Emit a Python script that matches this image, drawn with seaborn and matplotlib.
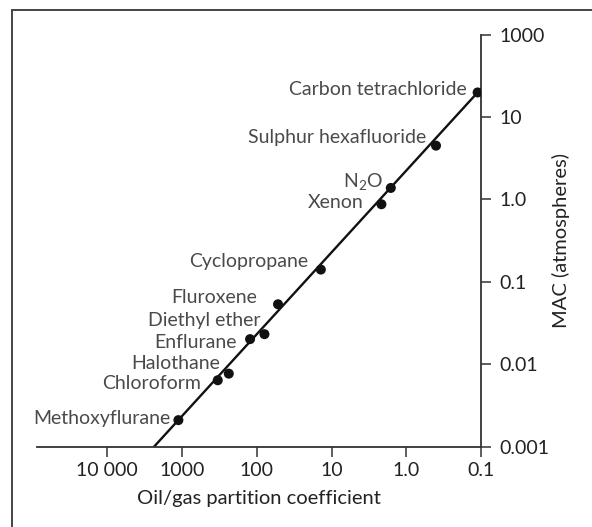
"""MAC versus oil/gas partition coefficient (Meyer-Overton correlation)."""

import matplotlib.pyplot as plt
from matplotlib.lines import Line2D
import pandas as pd
import seaborn as sns

# Data
agents = [
    "Carbon tetrachloride",
    "Sulphur hexafluoride",
    "N$_2$O",
    "Xenon",
    "Cyclopropane",
    "Fluroxene",
    "Diethyl ether",
    "Enflurane",
    "Halothane",
    "Chloroform",
    "Methoxyflurane",
]
oil_gas = [0.111, 0.40, 1.61, 2.15, 13.9, 52, 79, 123, 237, 333, 1120]
mac = [19.9, 4.5, 1.38, 0.875, 0.141, 0.0535, 0.0232, 0.0202, 0.0077, 0.0064, 0.0021]

# regression line end points
line_x = [2370, 0.111]
line_y = [0.001, 19.9]

x_ticks = [10000, 1000, 100, 10, 1, 0.1]
x_tick_labels = ["10 000", "1000", "100", "10", "1.0", "0.1"]
y_ticks = [0.001, 0.01, 0.1, 1, 10, 100]
y_tick_labels = ["0.001", "0.01", "0.1", "1.0", "10", "1000"]

# label offsets from each point, in pixels
label_dx = [-11, -10, -8, -18, -13, -21, -4, -13, -9, -17, -8]
label_dy = [3, 8, 6, 2, 8, 7, 14, -3, 10, -3, 2]

sns.set_theme(style="ticks")
plt.rcParams["font.family"] = ["Lato", "DejaVu Sans"]
plt.rcParams["mathtext.default"] = "regular"

df = pd.DataFrame({"agent": agents, "oil_gas": oil_gas, "mac": mac})
line_df = pd.DataFrame({"oil_gas": line_x, "mac": line_y})

fig = plt.figure(figsize=(5.92, 5.27), dpi=100)
ax = fig.add_axes([0.063, 0.1524, 0.7495, 0.7818])

sns.lineplot(data=line_df, x="oil_gas", y="mac", color="#111111", linewidth=1.7,
             sort=False, ax=ax)
sns.scatterplot(data=df, x="oil_gas", y="mac", color="#111111", s=52,
                edgecolor="none", ax=ax, zorder=3)

for name, xv, yv, dx, dy in zip(agents, oil_gas, mac, label_dx, label_dy):
    ax.annotate(name, (xv, yv), xytext=(dx, dy), textcoords="offset pixels",
                ha="right", va="center", fontsize=14, color="#4a4a4a")

ax.set_xscale("log")
ax.set_yscale("log")
ax.set_xlim(86500, 0.1)
ax.set_ylim(0.001, 100)
ax.set_xticks(x_ticks)
ax.set_xticklabels(x_tick_labels)
ax.set_yticks(y_ticks)
ax.set_yticklabels(y_tick_labels)
ax.minorticks_off()

ax.yaxis.tick_right()
ax.yaxis.set_label_position("right")
for side in ["top", "left"]:
    ax.spines[side].set_visible(False)
for side in ["bottom", "right"]:
    ax.spines[side].set_color("#333333")
    ax.spines[side].set_linewidth(1.3)
ax.tick_params(axis="both", length=7, width=1.1, color="#333333",
               labelsize=14, labelcolor="#222222")
ax.tick_params(axis="x", pad=4)
ax.tick_params(axis="y", pad=6)

ax.set_xlabel("Oil/gas partition coefficient", fontsize=14.5, color="#222222",
              labelpad=8)
ax.set_ylabel("MAC (atmospheres)", fontsize=14.5, color="#222222", labelpad=2)

# cropped frame around the figure
fig.add_artist(Line2D([0.021, 1.0], [0.981, 0.981], color="#444444", linewidth=1.4))
fig.add_artist(Line2D([0.021, 0.021], [0.0, 0.981], color="#444444", linewidth=1.4))

fig.savefig("out.png", dpi=100)
